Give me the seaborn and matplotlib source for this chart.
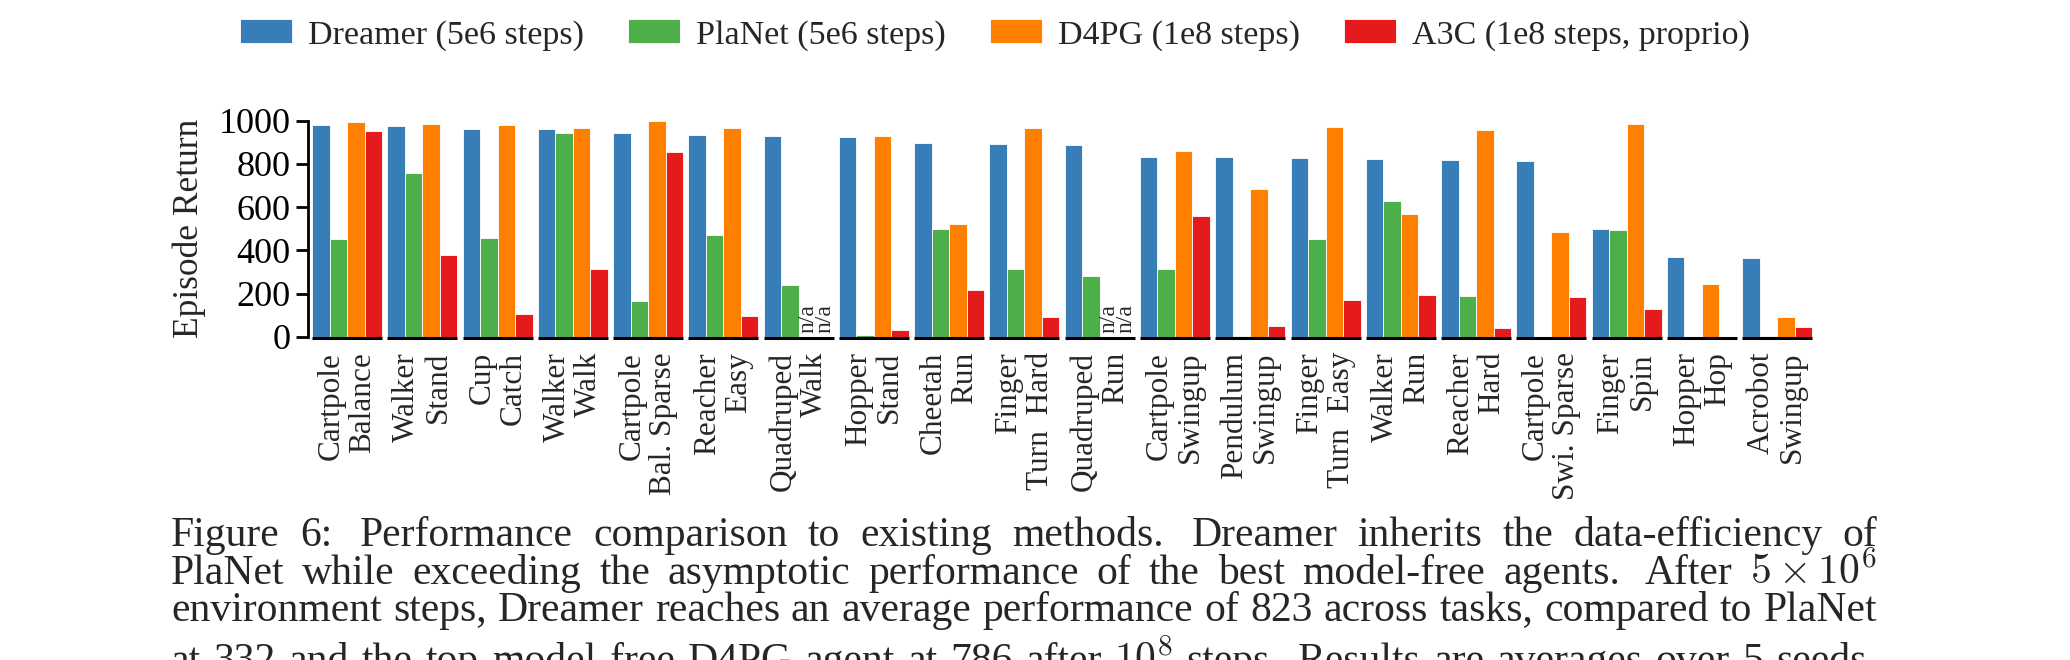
import re
import numpy as np
import pandas as pd
import seaborn as sns
import matplotlib.pyplot as plt


# Episode returns (nan = n/a)

tasks = ['Cartpole\nBalance', 'Walker\nStand', 'Cup\nCatch', 'Walker\nWalk',
         'Cartpole\nBal. Sparse', 'Reacher\nEasy', 'Quadruped\nWalk', 'Hopper\nStand',
         'Cheetah\nRun', 'Finger\nTurn  Hard', 'Quadruped\nRun', 'Cartpole\nSwingup',
         'Pendulum\nSwingup', 'Finger\nTurn  Easy', 'Walker\nRun', 'Reacher\nHard',
         'Cartpole\nSwi. Sparse', 'Finger\nSpin', 'Hopper\nHop', 'Acrobot\nSwingup']

methods = ['Dreamer (5e6 steps)', 'PlaNet (5e6 steps)', 'D4PG (1e8 steps)', 'A3C (1e8 steps, proprio)']
colors = ['#377eb8', '#4daf4a', '#ff7f00', '#e41a1c']

dreamer = [980, 977, 961, 960, 941, 934, 931, 923, 895, 892,
           889, 833, 832, 826, 824, 816, 812, 498, 370, 366]
planet = [454, 758, 457, 943, 165, 469, 239, 8, 497, 313,
          281, 313, 4, 452, 628, 188, 0, 495, 0, 4]
d4pg = [992, 985, 980, 968, 998, 966, np.nan, 931, 523, 966,
        np.nan, 861, 682, 971, 568, 957, 483, 985, 242, 93]
a3c = [951, 378, 106, 312, 856, 96, np.nan, 31, 215, 90,
       np.nan, 559, 49, 170, 193, 40, 182, 130, 0, 43]

caption_lines = [
    'Figure 6:  Performance comparison to existing methods.  Dreamer inherits the data-efficiency of',
    'PlaNet while exceeding the asymptotic performance of the best model-free agents. After $5\\times10^6$',
    'environment steps, Dreamer reaches an average performance of 823 across tasks, compared to PlaNet',
    'at 332 and the top model-free D4PG agent at 786 after $10^8$ steps. Results are averages over 5 seeds.',
]

df = pd.DataFrame({
    'task': tasks * 4,
    'method': np.repeat(methods, len(tasks)),
    'score': dreamer + planet + d4pg + a3c,
})

# Style

sns.set_theme(style='ticks')
plt.rcParams['font.family'] = ['Liberation Serif', 'DejaVu Serif']
plt.rcParams['mathtext.fontset'] = 'cm'

W, H = 2070, 660
fig = plt.figure(figsize=(W / 100, H / 100), dpi=100)
ax = fig.add_axes([308 / W, (H - 336.7) / H, 1506.7 / W, 216 / H])

group_w = 0.93
sns.barplot(data=df, x='task', y='score', hue='method', order=tasks, hue_order=methods,
            palette=colors, saturation=1, width=group_w, errorbar=None,
            edgecolor='white', linewidth=0.6, ax=ax)

ax.set_xlim(-0.52, len(tasks) - 0.5)
ax.set_ylim(0, 1000)
ax.set_yticks(range(0, 1001, 200))

# thick underline below every task group
ax.hlines([-7] * len(tasks), np.arange(len(tasks)) - group_w / 2, np.arange(len(tasks)) + group_w / 2,
          color='black', lw=2.2, clip_on=False)

# n/a markers for missing model-free results
bar_w = group_w / 4
for k, vals in enumerate([dreamer, planet, d4pg, a3c]):
    for i, v in enumerate(vals):
        if np.isnan(v):
            ax.text(i - group_w / 2 + bar_w * (k + 0.5), 18, 'n/a', rotation=90,
                    ha='center', va='bottom', fontsize=17)

sns.despine(ax=ax, bottom=True)
ax.spines['left'].set_bounds(0, 1000)
ax.spines['left'].set_linewidth(2)
ax.spines['left'].set_color('black')
ax.tick_params(axis='y', length=8.5, width=2, labelsize=26, pad=4, colors='black')
ax.tick_params(axis='x', length=0, labelsize=22.5, pad=11)
for lab in ax.get_xticklabels():
    lab.set_rotation(90)
    lab.set_ha('center')
    lab.set_va('top')
    lab.set_multialignment('right')
    lab.set_linespacing(1.1)

ax.set_xlabel('')
ax.set_ylabel('Episode Return', fontsize=25.5, labelpad=9)

sns.move_legend(ax, 'center', bbox_to_anchor=(995 / W, 1 - 35 / H), bbox_transform=fig.transFigure,
                ncol=4, frameon=False, title=None, fontsize=24.5, handlelength=1.53,
                handleheight=0.7, handletextpad=0.47, columnspacing=1.3)

# Caption, justified word by word

renderer = fig.canvas.get_renderer()
left, right = 171, 1877
baselines = [546, 584, 621, 672]
for line, yb in zip(caption_lines, baselines):
    words = re.findall(r'\$[^$]*\$\S*|\S+', line)
    texts = [fig.text(0, 1 - yb / H, w, fontsize=30, va='baseline', ha='left') for w in words]
    widths = [t.get_window_extent(renderer).width for t in texts]
    weights = [1.4 if w.endswith(('.', ':')) else 1.0 for w in words[:-1]]
    unit = (right - left - sum(widths)) / sum(weights)
    x = left
    for t, w, g in zip(texts, widths, weights + [0]):
        t.set_x(x / W)
        x += w + g * unit

fig.savefig('out.png', dpi=100)
